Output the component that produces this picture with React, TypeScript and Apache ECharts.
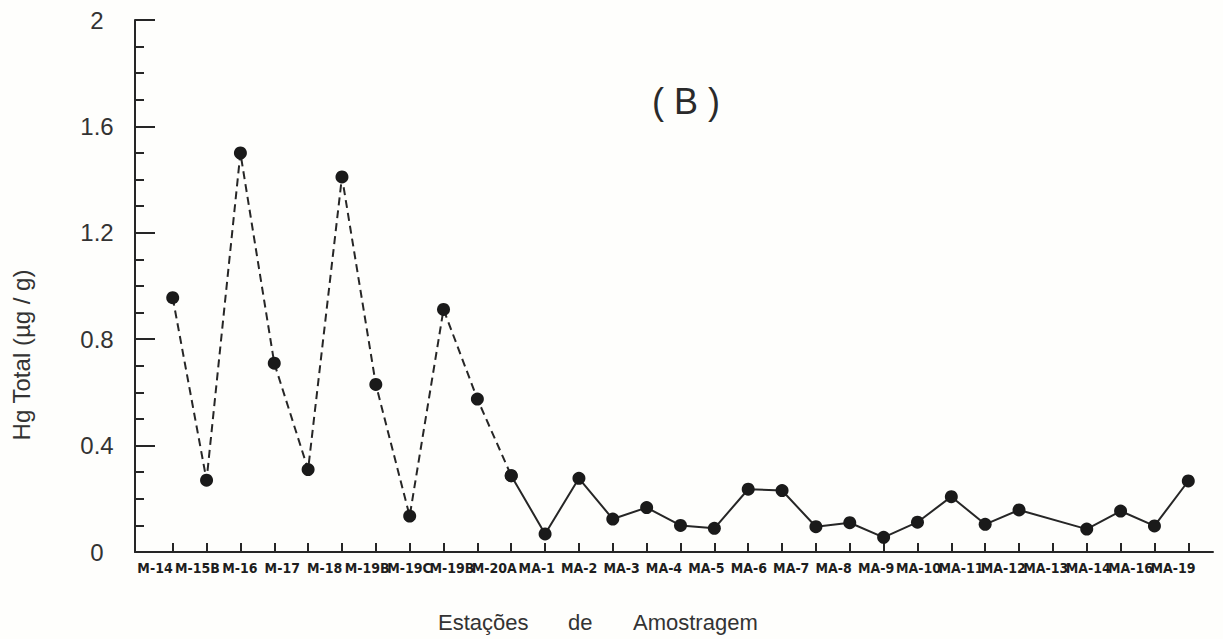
import React, { useEffect, useRef } from "react";
import * as echarts from "echarts";

// Tick positions along the x axis (hand-drawn figure: 31 ticks, one without a sample)
const tickIds: string[] = Array.from({ length: 31 }, (_, i) => String(i + 1));

// Hg Total (µg/g) at each tick; null = tick without a sample
const hgValues: (number | null)[] = [
  0.956, 0.27, 1.5, 0.71, 0.31, 1.41, 0.63, 0.135, 0.912, 0.575, 0.287,
  0.068, 0.277, 0.124, 0.167, 0.1, 0.089, 0.236, 0.231, 0.095, 0.11,
  0.055, 0.112, 0.208, 0.104, 0.158, null, 0.086, 0.154, 0.098, 0.267,
];

// index where the dashed (M-series) part ends and solid (MA-series) part starts
const splitIndex = 10;

// Station labels printed under the axis
const stationLabels: string[] = [
  "M-14", "M-15B", "M-16", "M-17", "M-18", "M-19B", "M-19C", "M-19B", "M-20A",
  "MA-1", "MA-2", "MA-3", "MA-4", "MA-5", "MA-6", "MA-7", "MA-8", "MA-9",
  "MA-10", "MA-11", "MA-12", "MA-13", "MA-14", "MA-16", "MA-19",
];

const yTicks = { min: 0, max: 2, interval: 0.4 };

export default function App() {
  const ref = useRef<HTMLDivElement>(null);

  useEffect(() => {
    if (!ref.current) return;
    const chart = echarts.init(ref.current, undefined, { renderer: "svg" });

    const dashedData = hgValues.map((v, i) => (i <= splitIndex ? v : null));
    const solidData = hgValues.map((v, i) => (i >= splitIndex ? v : null));

    const ink = "#262626";
    const top = 20;
    const height = 532;

    chart.setOption({
      animation: false,
      backgroundColor: "#fefefc",
      grid: [
        { left: 135, top, width: 1078, height },
        { left: 172.7, top, width: 1015.6, height },
        { left: 155, top, width: 1018, height },
      ],
      xAxis: [
        {
          gridIndex: 0,
          type: "value",
          min: 0,
          max: 1,
          axisLine: { show: true, lineStyle: { color: ink, width: 2 } },
          axisTick: { show: false },
          axisLabel: { show: false },
          splitLine: { show: false },
        },
        {
          gridIndex: 1,
          type: "category",
          data: tickIds,
          boundaryGap: false,
          axisLine: { show: false },
          axisTick: {
            show: true,
            inside: true,
            length: 9,
            interval: 0,
            lineStyle: { color: ink, width: 2 },
          },
          axisLabel: { show: false },
          splitLine: { show: false },
        },
        {
          gridIndex: 2,
          type: "category",
          data: stationLabels,
          boundaryGap: false,
          axisLine: { show: false },
          axisTick: { show: false },
          axisLabel: {
            show: true,
            interval: 0,
            hideOverlap: false,
            margin: 9,
            color: "#1e1e1e",
            fontFamily: "'DejaVu Sans Condensed', 'Liberation Sans', sans-serif",
            fontWeight: "bold",
            fontSize: 14,
          },
          splitLine: { show: false },
        },
      ],
      yAxis: [
        {
          gridIndex: 0,
          type: "value",
          min: yTicks.min,
          max: yTicks.max,
          interval: yTicks.interval,
          axisLine: { show: true, lineStyle: { color: ink, width: 2 } },
          axisTick: {
            show: true,
            inside: true,
            length: 20,
            lineStyle: { color: ink, width: 2 },
          },
          minorTick: {
            show: true,
            splitNumber: 4,
            length: 9,
            lineStyle: { color: ink, width: 2 },
          },
          axisLabel: {
            show: true,
            align: "center",
            margin: 38,
            color: "#333",
            fontFamily: "Liberation Sans",
            fontSize: 24,
          },
          splitLine: { show: false },
        },
        {
          gridIndex: 1,
          type: "value",
          min: yTicks.min,
          max: yTicks.max,
          show: false,
        },
        {
          gridIndex: 2,
          type: "value",
          min: yTicks.min,
          max: yTicks.max,
          show: false,
        },
      ],
      series: [
        {
          type: "line",
          xAxisIndex: 1,
          yAxisIndex: 1,
          data: dashedData,
          symbol: "circle",
          symbolSize: 13,
          itemStyle: { color: "#1a1a1a" },
          lineStyle: { color: ink, width: 2, type: [8, 5] },
        },
        {
          type: "line",
          xAxisIndex: 1,
          yAxisIndex: 1,
          data: solidData,
          connectNulls: true,
          symbol: "circle",
          symbolSize: 13,
          itemStyle: { color: "#1a1a1a" },
          lineStyle: { color: ink, width: 2, type: "solid" },
        },
      ],
      graphic: [
        {
          type: "text",
          x: 686,
          y: 101,
          style: {
            text: "( B )",
            fontSize: 36,
            fontFamily: "Liberation Sans",
            fill: "#2a2a2a",
            textAlign: "center",
            textVerticalAlign: "middle",
          },
        },
        {
          type: "text",
          x: 21,
          y: 355,
          rotation: Math.PI / 2,
          style: {
            text: "Hg Total (µg / g)",
            fontSize: 24,
            fontFamily: "Liberation Sans",
            fill: "#333",
            textAlign: "center",
            textVerticalAlign: "middle",
          },
        },
        {
          type: "text",
          x: 438,
          y: 622,
          style: {
            text: "Estações",
            fontSize: 22,
            fontFamily: "Liberation Sans",
            fill: "#333",
            textAlign: "left",
            textVerticalAlign: "middle",
          },
        },
        {
          type: "text",
          x: 568,
          y: 622,
          style: {
            text: "de",
            fontSize: 22,
            fontFamily: "Liberation Sans",
            fill: "#333",
            textAlign: "left",
            textVerticalAlign: "middle",
          },
        },
        {
          type: "text",
          x: 633,
          y: 622,
          style: {
            text: "Amostragem",
            fontSize: 22,
            fontFamily: "Liberation Sans",
            fill: "#333",
            textAlign: "left",
            textVerticalAlign: "middle",
          },
        },
      ],
    });

    return () => chart.dispose();
  }, []);

  return (
    <div
      ref={ref}
      style={{ position: "fixed", left: 0, top: 0, width: 1223, height: 639 }}
    />
  );
}
